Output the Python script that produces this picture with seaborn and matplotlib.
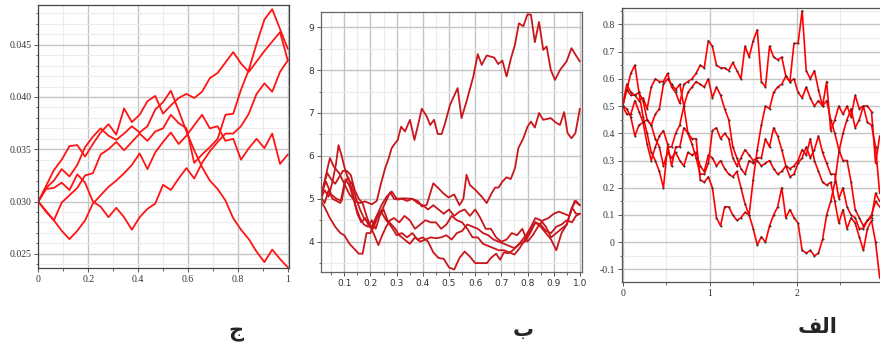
import numpy as np
import pandas as pd
import seaborn as sns
import matplotlib.pyplot as plt
from matplotlib.ticker import MultipleLocator, FuncFormatter

# ---- data ----

# panel ج : five paths on a 1/32 grid
left_x = np.arange(33) / 32
left_1 = [0.0300, 0.0315, 0.0330, 0.0340, 0.0353, 0.0354, 0.0343, 0.0355, 0.0366, 0.0374,
          0.0364, 0.0389, 0.0376, 0.0383, 0.0396, 0.0401, 0.0384, 0.0392, 0.0399, 0.0403,
          0.0399, 0.0405, 0.0418, 0.0423, 0.0433, 0.0443, 0.0432, 0.0424, 0.0434, 0.0444,
          0.0453, 0.0462, 0.0435]
left_2 = [0.0300, 0.0313, 0.0320, 0.0331, 0.0324, 0.0335, 0.0352, 0.0362, 0.0370, 0.0363,
          0.0359, 0.0365, 0.0372, 0.0366, 0.0372, 0.0388, 0.0395, 0.0406, 0.0387, 0.0367,
          0.0349, 0.0333, 0.0320, 0.0312, 0.0301, 0.0284, 0.0273, 0.0264, 0.0252, 0.0242,
          0.0254, 0.0245, 0.0237]
left_3 = [0.0300, 0.0291, 0.0282, 0.0299, 0.0306, 0.0313, 0.0325, 0.0327, 0.0345, 0.0350,
          0.0357, 0.0349, 0.0357, 0.0365, 0.0358, 0.0367, 0.0370, 0.0383, 0.0375, 0.0370,
          0.0337, 0.0345, 0.0352, 0.0360, 0.0383, 0.0384, 0.0407, 0.0426, 0.0451, 0.0474,
          0.0484, 0.0465, 0.0446]
left_4 = [0.0300, 0.0290, 0.0282, 0.0272, 0.0264, 0.0272, 0.0282, 0.0298, 0.0306, 0.0314,
          0.0320, 0.0327, 0.0335, 0.0346, 0.0331, 0.0347, 0.0357, 0.0366, 0.0355, 0.0363,
          0.0373, 0.0383, 0.0370, 0.0372, 0.0358, 0.0360, 0.0340, 0.0351, 0.0360, 0.0351,
          0.0365, 0.0336, 0.0345]
left_5 = [0.0300, 0.0312, 0.0313, 0.0318, 0.0311, 0.0326, 0.0318, 0.0300, 0.0295, 0.0285,
          0.0294, 0.0285, 0.0273, 0.0285, 0.0293, 0.0298, 0.0316, 0.0311, 0.0322, 0.0332,
          0.0322, 0.0337, 0.0348, 0.0357, 0.0365, 0.0365, 0.0372, 0.0384, 0.0403, 0.0413,
          0.0405, 0.0424, 0.0435]

# panel ب : six paths, vertices read one by one
mid_x1 = [0.01, 0.02, 0.03, 0.045, 0.06, 0.08, 0.10, 0.12, 0.14, 0.16,
          0.179, 0.205, 0.224, 0.24, 0.256, 0.27, 0.281, 0.295, 0.304, 0.317,
          0.332, 0.351, 0.368, 0.383, 0.396, 0.415, 0.428, 0.443, 0.457, 0.472,
          0.485, 0.504, 0.533, 0.548, 0.567, 0.593, 0.61, 0.625, 0.644, 0.673,
          0.688, 0.704, 0.72, 0.737, 0.752, 0.767, 0.784, 0.80, 0.813, 0.828,
          0.844, 0.86, 0.873, 0.889, 0.905, 0.924, 0.949, 0.968, 0.983, 1.0]
mid_y1 = [5.0, 5.25, 5.55, 5.95, 5.75, 5.6, 5.35, 5.1, 4.95, 4.9,
          4.94, 4.87, 4.95, 5.35, 5.71, 5.95, 6.18, 6.3, 6.37, 6.68,
          6.57, 6.84, 6.37, 6.75, 7.10, 6.92, 6.72, 6.84, 6.51, 6.51,
          6.76, 7.19, 7.58, 6.88, 7.27, 7.85, 8.37, 8.12, 8.34, 8.29,
          8.14, 8.22, 7.85, 8.28, 8.59, 9.09, 9.02, 9.30, 9.29, 8.65,
          9.12, 8.47, 8.55, 8.0, 7.77, 8.0, 8.2, 8.51, 8.36, 8.2]
mid_x2 = [0.01, 0.025, 0.04, 0.055, 0.068, 0.078, 0.09, 0.10, 0.115, 0.13,
          0.145, 0.16, 0.175, 0.19, 0.205, 0.22, 0.235, 0.243, 0.262, 0.281,
          0.30, 0.326, 0.358, 0.383, 0.396, 0.415, 0.44, 0.459, 0.478, 0.498,
          0.52, 0.54, 0.555, 0.567, 0.58, 0.60, 0.625, 0.644, 0.663, 0.676,
          0.689, 0.704, 0.72, 0.736, 0.752, 0.765, 0.784, 0.80, 0.813, 0.828,
          0.844, 0.86, 0.889, 0.905, 0.924, 0.94, 0.953, 0.968, 0.983, 1.0]
mid_y2 = [5.0, 5.2, 5.05, 5.4, 5.8, 6.25, 6.0, 5.75, 5.45, 5.35,
          5.0, 4.75, 4.55, 4.45, 4.35, 4.55, 4.75, 4.86, 5.05, 5.17,
          5.0, 5.01, 5.0, 4.94, 4.82, 4.86, 5.36, 5.25, 5.13, 5.03,
          5.1, 4.85, 5.0, 5.56, 5.32, 5.21, 5.05, 4.9, 5.13, 5.26,
          5.26, 5.40, 5.50, 5.46, 5.71, 6.18, 6.41, 6.68, 6.80, 6.66,
          7.0, 6.84, 6.88, 6.79, 6.72, 7.02, 6.53, 6.41, 6.53, 7.10]
mid_x3 = [0.01, 0.025, 0.045, 0.065, 0.085, 0.10, 0.12, 0.14, 0.155, 0.17,
          0.185, 0.20, 0.215, 0.23, 0.245, 0.26, 0.275, 0.29, 0.305, 0.32,
          0.34, 0.36, 0.38, 0.40, 0.42, 0.44, 0.46, 0.48, 0.50, 0.52,
          0.54, 0.56, 0.58, 0.60, 0.62, 0.64, 0.66, 0.68, 0.70, 0.72,
          0.74, 0.76, 0.78, 0.80, 0.82, 0.84, 0.86, 0.88, 0.90, 0.92,
          0.94, 0.96, 0.98, 1.0]
mid_y3 = [4.95, 4.8, 4.55, 4.35, 4.2, 4.15, 3.95, 3.82, 3.72, 3.72,
          4.2, 4.2, 4.45, 4.65, 4.75, 4.95, 5.15, 5.0, 4.98, 5.0,
          4.95, 5.0, 4.9, 4.85, 4.75, 4.85, 4.75, 4.65, 4.75, 4.6,
          4.7, 4.75, 4.6, 4.75, 4.55, 4.3, 4.3, 4.1, 4.0, 4.05,
          4.2, 4.15, 4.3, 4.0, 4.15, 4.35, 4.5, 4.55, 4.65, 4.7,
          4.65, 4.6, 4.95, 4.85]
mid_x4 = [0.01, 0.03, 0.05, 0.07, 0.09, 0.105, 0.12, 0.135, 0.15, 0.165,
          0.18, 0.195, 0.21, 0.225, 0.24, 0.26, 0.28, 0.30, 0.32, 0.34,
          0.36, 0.38, 0.40, 0.42, 0.44, 0.46, 0.48, 0.50, 0.52, 0.54,
          0.56, 0.58, 0.60, 0.625, 0.645, 0.66, 0.68, 0.695, 0.71, 0.725,
          0.74, 0.76, 0.78, 0.795, 0.81, 0.83, 0.85, 0.87, 0.89, 0.91,
          0.93, 0.95, 0.97, 0.985, 1.0]
mid_y4 = [5.1, 5.4, 5.1, 5.0, 4.95, 5.45, 5.3, 5.0, 4.65, 4.45,
          4.55, 4.35, 4.3, 4.55, 4.7, 4.5, 4.35, 4.15, 4.2, 4.1,
          4.2, 4.05, 4.1, 4.0, 3.75, 3.62, 3.6, 3.4, 3.35, 3.62,
          3.77, 3.65, 3.5, 3.5, 3.5, 3.62, 3.72, 3.58, 3.75, 3.73,
          3.78, 3.89, 4.04, 4.16, 4.31, 4.55, 4.5, 4.35, 4.1, 4.2,
          4.3, 4.4, 4.8, 4.65, 4.65]
mid_x5 = [0.01, 0.02, 0.035, 0.05, 0.065, 0.08, 0.095, 0.11, 0.125, 0.14,
          0.155, 0.17, 0.185, 0.20, 0.215, 0.23, 0.245, 0.26, 0.275, 0.29,
          0.31, 0.33, 0.35, 0.37, 0.39, 0.41, 0.43, 0.45, 0.47, 0.49,
          0.51, 0.53, 0.55, 0.57, 0.59, 0.61, 0.63, 0.65, 0.67, 0.69,
          0.71, 0.73, 0.75, 0.77, 0.79, 0.81, 0.83, 0.85, 0.87, 0.89,
          0.91, 0.93, 0.95, 0.97, 0.985, 1.0]
mid_y5 = [4.95, 5.3, 5.6, 5.45, 5.35, 5.5, 5.65, 5.65, 5.55, 5.2,
          5.0, 4.9, 4.6, 4.35, 4.15, 3.92, 4.15, 4.35, 4.5, 4.55,
          4.45, 4.6, 4.5, 4.3, 4.4, 4.5, 4.45, 4.45, 4.3, 4.4,
          4.6, 4.5, 4.45, 4.3, 4.1, 4.1, 3.95, 3.9, 3.85, 3.8,
          3.8, 3.75, 3.7, 3.85, 4.05, 4.25, 4.45, 4.4, 4.25, 4.2,
          4.35, 4.4, 4.5, 4.45, 4.6, 4.65]
mid_x6 = [0.01, 0.025, 0.04, 0.055, 0.07, 0.085, 0.1, 0.115, 0.13, 0.145,
          0.16, 0.175, 0.19, 0.205, 0.22, 0.235, 0.25, 0.265, 0.28, 0.295,
          0.31, 0.33, 0.35, 0.37, 0.39, 0.41, 0.43, 0.45, 0.47, 0.49,
          0.51, 0.53, 0.55, 0.57, 0.59, 0.61, 0.63, 0.65, 0.67, 0.69,
          0.71, 0.73, 0.75, 0.77, 0.79, 0.81, 0.83, 0.85, 0.87, 0.89,
          0.91, 0.93, 0.95, 0.97, 0.985, 1.0]
mid_y6 = [5.05, 4.9, 5.2, 5.0, 4.95, 4.9, 5.35, 5.5, 5.2, 4.8,
          4.55, 4.4, 4.35, 4.5, 4.3, 4.6, 4.75, 4.5, 4.4, 4.3,
          4.15, 4.05, 3.95, 4.1, 4.0, 4.05, 4.1, 4.08, 4.1, 4.15,
          4.05, 4.2, 4.25, 4.4, 4.35, 4.3, 4.2, 4.15, 4.05, 4.0,
          3.95, 3.9, 3.85, 3.95, 4.0, 4.2, 4.45, 4.35, 4.2, 4.05,
          3.8, 4.2, 4.4, 4.8, 4.95, 4.85]

# panel الف : five paths on a 3/64 grid, dot at each step
right_x = np.arange(64) * 3 / 64
right_1 = [.50, .56, .54, .54, .52, .53, .49, .57, .60, .59,
           .59, .62, .57, .55, .51, .58, .59, .60, .62, .65,
           .64, .74, .72, .65, .64, .64, .63, .66, .63, .60,
           .72, .68, .74, .78, .59, .57, .72, .68, .67, .68,
           .61, .59, .73, .73, .85, .63, .60, .63, .56, .50,
           .59, .41, .45, .50, .47, .50, .46, .54, .49, .50,
           .50, .48, .29, .39]
right_2 = [.50, .56, .62, .65, .55, .46, .40, .33, .30, .26,
           .20, .35, .35, .40, .43, .50, .55, .57, .59, .58,
           .57, .60, .53, .57, .54, .49, .45, .35, .31, .27,
           .25, .30, .29, .30, .28, .29, .30, .27, .25, .26,
           .28, .27, .28, .30, .34, .32, .38, .30, .26, .22,
           .21, .22, .15, .07, .12, .05, .09, .07, .02, -.03,
           .05, .08, .00, -.13]
right_3 = [.50, .47, .47, .52, .48, .44, .45, .43, .38, .35,
           .28, .33, .31, .33, .30, .28, .33, .32, .33, .28,
           .26, .32, .31, .28, .30, .27, .25, .24, .26, .20,
           .14, .10, .23, .34, .43, .50, .49, .55, .57, .58,
           .61, .59, .60, .55, .53, .57, .53, .50, .52, .50,
           .52, .45, .40, .34, .30, .30, .22, .12, .09, .06,
           .08, .09, .18, .15]
right_4 = [.50, .58, .55, .54, .55, .52, .45, .43, .47, .49,
           .58, .60, .58, .56, .58, .50, .40, .36, .31, .25,
           .25, .29, .41, .42, .38, .40, .38, .31, .28, .31,
           .34, .32, .30, .31, .31, .38, .35, .42, .39, .34,
           .28, .24, .25, .29, .31, .35, .31, .34, .39, .33,
           .29, .25, .25, .16, .20, .13, .10, .09, .05, .05,
           .08, .10, .15, .13]
right_5 = [.50, .49, .46, .39, .43, .44, .36, .30, .35, .39,
           .41, .36, .28, .35, .35, .42, .40, .38, .38, .23,
           .22, .24, .20, .09, .06, .13, .13, .10, .08, .09,
           .11, .10, .05, -.01, .02, .00, .06, .10, .13, .20,
           .09, .12, .09, .07, -.03, -.04, -.03, -.05, -.04, .01,
           .10, .15, .22, .33, .40, .45, .49, .42, .45, .50,
           .44, .43, .35, .18]

panel_labels = ["ج", "ب", "الف"]
# matplotlib does no Arabic shaping, so the joined word is given in presentation forms
shaped = {"الف": "\ufed2\ufedf\ufe8d"}


def long_table(paths):
    parts = []
    for i, (xs, ys) in enumerate(paths):
        parts.append(pd.DataFrame({"x": xs, "y": ys, "run": i}))
    return pd.concat(parts, ignore_index=True)


left_df = long_table([(left_x, s) for s in [left_1, left_2, left_3, left_4, left_5]])
mid_df = long_table([(mid_x1, mid_y1), (mid_x2, mid_y2), (mid_x3, mid_y3),
                     (mid_x4, mid_y4), (mid_x5, mid_y5), (mid_x6, mid_y6)])
right_df = long_table([(right_x, s) for s in [right_1, right_2, right_3, right_4, right_5]])

sns.set_style("white")
plt.rcParams["axes.unicode_minus"] = False

fig = plt.figure(figsize=(8.8, 3.49), dpi=100)
ax_l = fig.add_axes([38.3 / 880, 81 / 349, 251 / 880, 263 / 349])
ax_m = fig.add_axes([321 / 880, 77.3 / 349, 260.7 / 880, 260 / 349])
ax_r = fig.add_axes([621.7 / 880, 67.3 / 349, 258.3 / 880, 273.4 / 349])


def dress(ax, family, size, spine_col):
    ax.set_xlabel("")
    ax.set_ylabel("")
    ax.grid(which="major", color="#c4c4c4", lw=1.0)
    ax.grid(which="minor", color="#ececec", lw=0.8)
    ax.set_axisbelow(True)
    for s in ax.spines.values():
        s.set_color(spine_col)
        s.set_linewidth(0.9)
    ax.tick_params(which="major", length=3, width=0.7, color="#555555",
                   labelsize=size, pad=2, labelcolor="#333333")
    ax.tick_params(which="minor", length=1.8, width=0.6, color="#555555")
    ax.tick_params(left=True, bottom=True, which="both")
    for t in ax.get_xticklabels() + ax.get_yticklabels():
        t.set_family(family)


# ج
sns.lineplot(data=left_df, x="x", y="y", units="run", estimator=None, sort=False,
             color="#ff1414", lw=1.3, ax=ax_l, legend=False)
ax_l.set_xlim(0, 1.006)
ax_l.set_ylim(0.02364, 0.0488)
ax_l.xaxis.set_major_locator(MultipleLocator(0.2))
ax_l.xaxis.set_minor_locator(MultipleLocator(0.1))
ax_l.yaxis.set_major_locator(MultipleLocator(0.005))
ax_l.yaxis.set_minor_locator(MultipleLocator(0.001))
ax_l.xaxis.set_major_formatter(FuncFormatter(lambda v, p: f"{v:g}"))
ax_l.yaxis.set_major_formatter(FuncFormatter(lambda v, p: f"{v:.3f}"))
dress(ax_l, "Liberation Serif", 7, "#444444")

# ب
sns.lineplot(data=mid_df, x="x", y="y", units="run", estimator=None, sort=False,
             color="#c8161c", lw=1.3, ax=ax_m, legend=False)
ax_m.set_xlim(0.011, 1.007)
ax_m.set_ylim(3.30, 9.36)
ax_m.xaxis.set_major_locator(MultipleLocator(0.1))
ax_m.xaxis.set_minor_locator(MultipleLocator(0.05))
ax_m.yaxis.set_major_locator(MultipleLocator(1))
ax_m.yaxis.set_minor_locator(MultipleLocator(0.5))
ax_m.xaxis.set_major_formatter(FuncFormatter(lambda v, p: f"{v:.1f}"))
ax_m.yaxis.set_major_formatter(FuncFormatter(lambda v, p: f"{v:.0f}"))
dress(ax_m, "DejaVu Sans", 6.5, "#666666")

# الف
sns.lineplot(data=right_df, x="x", y="y", units="run", estimator=None, sort=False,
             color="#ff0000", lw=1.2, marker="o", markersize=1.5,
             markerfacecolor="#333333", markeredgecolor="#333333", markeredgewidth=0,
             ax=ax_r, legend=False)
ax_r.set_xlim(-0.011, 2.957)
ax_r.set_ylim(-0.145, 0.859)
ax_r.xaxis.set_major_locator(MultipleLocator(1))
ax_r.xaxis.set_minor_locator(MultipleLocator(0.5))
ax_r.yaxis.set_major_locator(MultipleLocator(0.1))
ax_r.yaxis.set_minor_locator(MultipleLocator(0.05))
ax_r.xaxis.set_major_formatter(FuncFormatter(lambda v, p: f"{v:g}"))
ax_r.yaxis.set_major_formatter(FuncFormatter(lambda v, p: "0" if abs(v) < 1e-9 else f"{v:.1f}"))
dress(ax_r, "Liberation Serif", 7, "#555555")
ax_r.spines["right"].set_visible(False)

# captions under the panels
for lab, (cx, cy) in zip(panel_labels, [(236, 332), (523, 330), (818, 327)]):
    fig.text(cx / 880, 1 - cy / 349, shaped.get(lab, lab), ha="center", va="center",
             fontsize=15, fontweight="bold", family=["DejaVu Sans"])

fig.savefig("out.png", dpi=100, facecolor="white")
